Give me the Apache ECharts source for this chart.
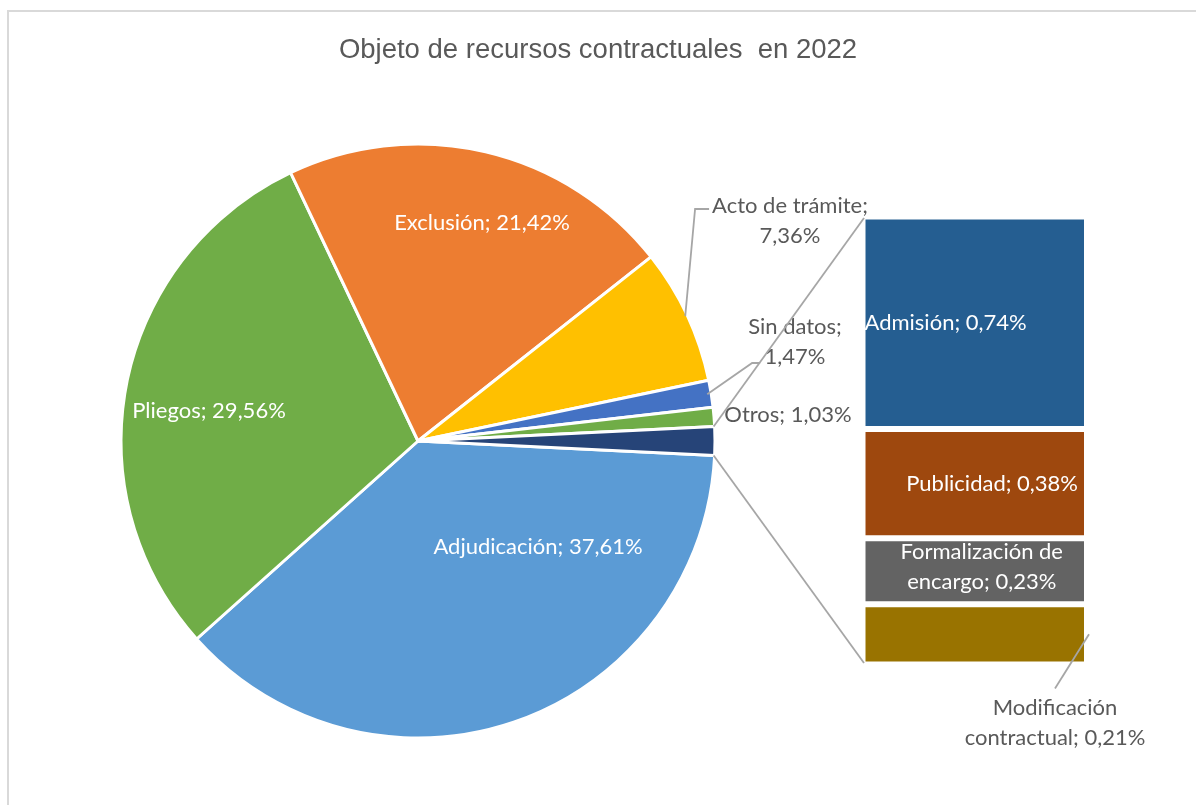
<!DOCTYPE html>
<html><head><meta charset="utf-8">
<script src="https://cdn.jsdelivr.net/npm/echarts@6/dist/echarts.min.js"></script>
<style>html,body{margin:0;padding:0;background:#fff}#c{width:1196px;height:805px}</style>
</head><body><div id="c"></div>
<script>
// ---------- data ----------
const chartTitle = 'Objeto de recursos contractuales  en 2022';
const pieNames = ['Adjudicación', 'Pliegos', 'Exclusión', 'Acto de trámite', 'Sin datos', 'Otros'];
const pieValues = [37.61, 29.56, 21.42, 7.36, 1.47, 1.03];
const barNames = ['Admisión', 'Publicidad', 'Formalización de encargo', 'Modificación contractual'];
const barValues = [0.74, 0.38, 0.23, 0.21];

// ---------- styles / layout ----------
const pieColors = ['#5B9BD5', '#70AD47', '#ED7D31', '#FFC000', '#4472C4', '#70AD47'];
const groupColor = '#264478';
const barColors = ['#255E91', '#9E480E', '#636363', '#997300'];
const PIE = {cx: 418, cy: 441, r: 297};
const GRID = {left: 862.5, top: 216.5, width: 224.5, height: 448};
const LABEL_FONT = 'Lato, "Noto Sans", sans-serif';
const LABEL_SIZE = 22;
const LH = 30;
const GREY_TEXT = '#595959';
const LINE_GREY = '#A6A6A6';
// label anchor offsets relative to pie centre
const pieLabelAt = {
  'Adjudicación': [120, 106],
  'Pliegos': [-209, -30],
  'Exclusión': [64, -218],
  'Acto de trámite': [372, -220],
  'Sin datos': [377, -99],
  'Otros': [370, -26]
};
const insideNames = ['Adjudicación', 'Pliegos', 'Exclusión'];
const nameSep = {'Acto de trámite': ';\n', 'Sin datos': ';\n'};
const nameWrap = {'Formalización de encargo': 'Formalización de\nencargo', 'Modificación contractual': 'Modificación\ncontractual'};

const fmt = v => v.toFixed(2).replace('.', ',') + '%';
const labelText = (n, v) => (nameWrap[n] || n) + (nameSep[n] || '; ') + fmt(v);

const barSum = barValues.reduce((a, b) => a + b, 0);
const total = pieValues.reduce((a, b) => a + b, 0) + barSum;
const halfGroupDeg = barSum / total * 180;
const rad = d => d * Math.PI / 180;
const arcPt = (deg, r) => [PIE.cx + r * Math.cos(rad(deg)), PIE.cy + r * Math.sin(rad(deg))];
// screen-clockwise mid angle of each pie slice
const midAngles = [];
{ let cum = 0; pieValues.forEach(v => { midAngles.push(halfGroupDeg + (cum + v / 2) / total * 360); cum += v; }); }

const labelRects = {};
const barRects = {};

const pieData = pieNames.map((n, i) => ({
  name: n, value: pieValues[i],
  itemStyle: {color: pieColors[i]},
  label: {show: true, color: insideNames.includes(n) ? '#fff' : GREY_TEXT}
}));
pieData.push({name: 'grupo', value: barSum, itemStyle: {color: groupColor}, label: {show: false}});

const barPositions = {
  'Admisión': r => ({x: r.x + 2, y: r.y + r.height / 2, align: 'left'}),
  'Publicidad': r => ({x: r.x + r.width - 9, y: r.y + r.height / 2, align: 'right'}),
  'Formalización de encargo': r => ({x: r.x + r.width / 2 + 7, y: r.y + r.height / 2 - 4, align: 'center'}),
  'Modificación contractual': r => ({x: r.x + r.width - 32, y: r.y + r.height + 58, align: 'center'})
};

const barSeries = barNames.map((n, i) => ({
  type: 'bar', name: n, stack: 'g', xAxisIndex: 0, yAxisIndex: 0,
  barWidth: '100%', data: [barValues[i]],
  itemStyle: {color: barColors[i], borderColor: '#fff', borderWidth: 3},
  label: {
    show: true, position: 'inside',
    color: i === 3 ? GREY_TEXT : '#fff',
    fontFamily: LABEL_FONT, fontSize: LABEL_SIZE, lineHeight: LH,
    formatter: () => labelText(n, barValues[i])
  },
  labelLayout: p => {
    barRects[n] = {x: p.rect.x, y: p.rect.y, width: p.rect.width, height: p.rect.height};
    const pos = barPositions[n](p.rect);
    labelRects[n] = {cx: pos.x, cy: pos.y, w: p.labelRect.width, h: p.labelRect.height};
    return {x: pos.x, y: pos.y, align: pos.align, verticalAlign: 'middle'};
  }
}));

const chart = echarts.init(document.getElementById('c'));
const option = {
  animation: false,
  backgroundColor: '#fff',
  title: {
    text: chartTitle, left: 'center', top: 31,
    textStyle: {fontFamily: '"Liberation Sans", Arial, sans-serif', fontSize: 27.5, fontWeight: 'normal', color: GREY_TEXT}
  },
  grid: {left: GRID.left, top: GRID.top, width: GRID.width, height: GRID.height},
  xAxis: {type: 'category', data: ['grupo'], show: false},
  yAxis: {type: 'value', min: 0, max: barSum, inverse: true, show: false},
  series: [{
    type: 'pie', center: [PIE.cx, PIE.cy], radius: PIE.r,
    startAngle: -halfGroupDeg, clockwise: true,
    data: pieData,
    itemStyle: {borderColor: '#fff', borderWidth: 3},
    label: {
      position: 'inside', fontFamily: LABEL_FONT, fontSize: LABEL_SIZE, lineHeight: LH,
      align: 'center',
      formatter: p => labelText(p.name, p.value)
    },
    labelLine: {show: false},
    emphasis: {disabled: true},
    labelLayout: p => {
      const n = pieNames[p.dataIndex];
      const o = pieLabelAt[n];
      if (!o) return {};
      const x = PIE.cx + o[0], y = PIE.cy + o[1];
      labelRects[n] = {cx: x, cy: y, w: p.labelRect.width, h: p.labelRect.height};
      return {x: x, y: y, align: 'center', verticalAlign: 'middle'};
    }
  }].concat(barSeries)
};
chart.setOption(option);

function decorations() {
  const g = [];
  g.push({type: 'rect', shape: {x: 8, y: 11, width: 1200, height: 810}, style: {fill: 'none', stroke: '#D9D9D9', lineWidth: 2}, z: 0, silent: true});
  // connectors from grouped slice to bar
  const top = arcPt(-halfGroupDeg, PIE.r - 1), bot = arcPt(halfGroupDeg, PIE.r - 1);
  const gTop = [GRID.left + 1.5, GRID.top + 1.5];
  const gBot = [GRID.left + 1.5, GRID.top + GRID.height - 1.5];
  const ls = {stroke: LINE_GREY, lineWidth: 1.8, fill: 'none'};
  g.push({type: 'line', shape: {x1: top[0], y1: top[1], x2: gTop[0], y2: gTop[1]}, style: ls, z: 10, silent: true});
  g.push({type: 'line', shape: {x1: bot[0], y1: bot[1], x2: gBot[0], y2: gBot[1]}, style: ls, z: 10, silent: true});
  // leader for Acto de trámite
  const ia = pieNames.indexOf('Acto de trámite');
  const ra = labelRects['Acto de trámite'];
  if (ra) {
    const s = arcPt(midAngles[ia], PIE.r - 2);
    const lx = ra.cx - ra.w / 2, ly = ra.cy - ra.h / 2;
    g.push({type: 'polyline', shape: {points: [s, [lx - 17, ly + LH / 2 + 3], [lx - 3, ly + LH / 2 + 3]]}, style: ls, z: 10, silent: true});
  }
  const isd = pieNames.indexOf('Sin datos');
  const rs = labelRects['Sin datos'];
  if (rs) {
    const s = arcPt(midAngles[isd], PIE.r - 4);
    const lx = rs.cx - rs.w / 2, ly = rs.cy - rs.h / 2;
    const e = [lx + 12, ly + rs.h * 0.85];
    g.push({type: 'polyline', shape: {points: [s, [e[0] - 8, e[1]], e]}, style: ls, z: 10, silent: true});
  }
  const rm = labelRects['Modificación contractual'], bm = barRects['Modificación contractual'];
  if (rm && bm) {
    g.push({type: 'line', shape: {x1: bm.x + bm.width + 2, y1: bm.y + bm.height * 0.5, x2: rm.cx, y2: rm.cy - rm.h / 2 - 4}, style: ls, z: 10, silent: true});
  }
  return g;
}
chart.setOption({graphic: decorations()});
</script>
</body></html>
